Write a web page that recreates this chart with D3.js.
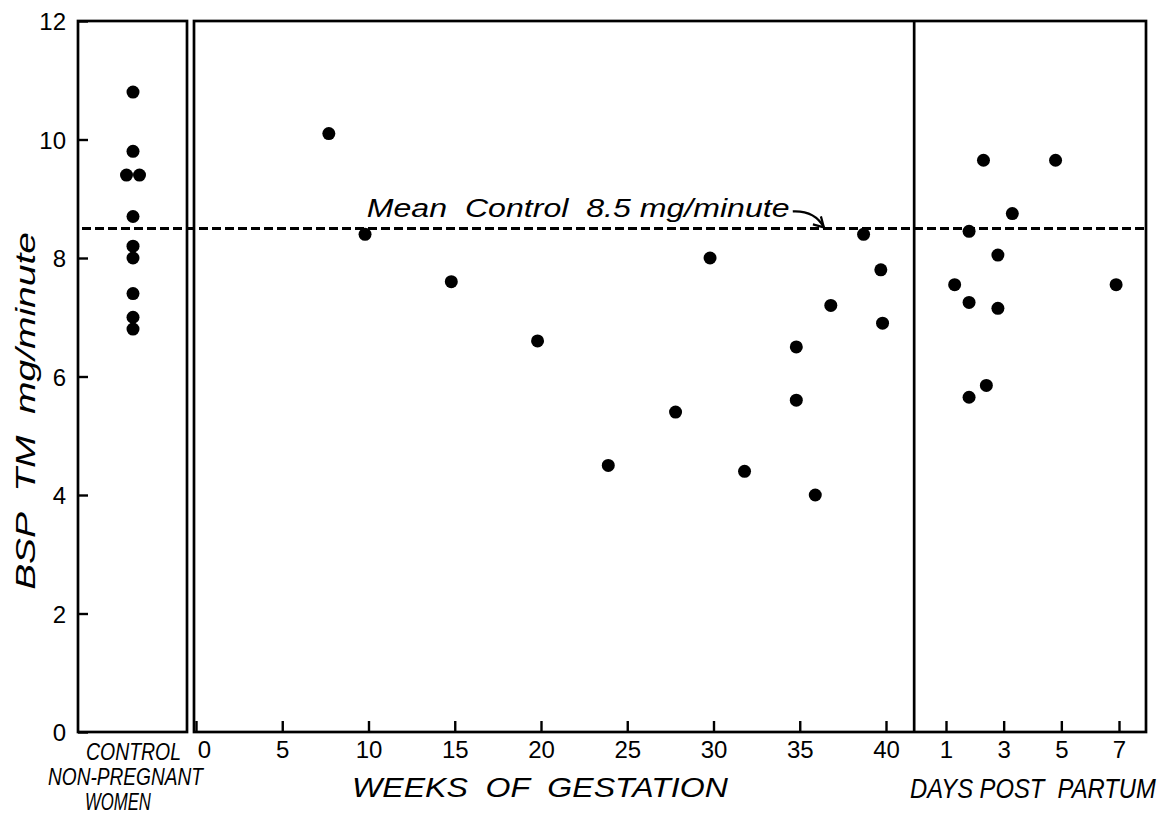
<!DOCTYPE html>
<html>
<head>
<meta charset="utf-8">
<script src="https://cdn.jsdelivr.net/npm/d3@7"></script>
<style>
  html, body { margin: 0; padding: 0; background: #fff; }
  svg { display: block; }
  text { font-family: "Liberation Sans", Arial, sans-serif; fill: #000; white-space: pre; }
</style>
</head>
<body>
<svg id="chart" width="1168" height="815"></svg>
<script>
// ---- data ----
const yTicks = [0, 2, 4, 6, 8, 10, 12];
const weekTicks = [0, 5, 10, 15, 20, 25, 30, 35, 40];
const dayTicks = [1, 3, 5, 7];

const controlValues = [10.8, 9.8, 9.4, 9.4, 8.7, 8.2, 8.0, 7.4, 7.0, 6.8];

const gestationWeeks  = [7.7, 9.8, 14.8, 19.8, 23.9, 27.8, 29.8, 31.8, 34.8, 34.8, 35.9, 36.8, 38.7, 39.7, 39.8];
const gestationValues = [10.1, 8.4, 7.6, 6.6, 4.5, 5.4, 8.0, 4.4, 6.5, 5.6, 4.0, 7.2, 8.4, 7.8, 6.9];

const postpartumDays   = [2.3, 4.8, 3.3, 1.8, 2.8, 1.3, 6.9, 1.8, 2.8, 2.4, 1.8];
const postpartumValues = [9.65, 9.65, 8.75, 8.45, 8.05, 7.55, 7.55, 7.25, 7.15, 5.85, 5.65];

const meanControl = 8.5;

// ---- layout ----
const svg = d3.select("#chart");
const y = d3.scaleLinear().domain([0, 12]).range([732, 21]);
const xWeeks = d3.scaleLinear().domain([0, 40]).range([196, 886]);
const xDays = d3.scaleLinear().domain([1, 7]).range([946, 1119]);
const ctrlLeft = 78, ctrlRight = 187, ctrlCenter = 133;
const mainLeft = 194, mainRight = 1146;
const sepX = xDays(0) - 3;

// text fitted to a width by horizontal scaling (real geometry, no textLength)
function fitText(str, x, yb, size, width, rotate) {
  const t = svg.append("text").style("font-size", size + "px").style("font-style", "italic").text(str);
  const natural = t.node().getComputedTextLength();
  const sx = width / natural;
  if (rotate) {
    t.attr("text-anchor", "middle")
     .attr("transform", `translate(${x},${yb}) rotate(-90) scale(${sx},1)`);
  } else {
    t.attr("transform", `translate(${x},${yb}) scale(${sx},1)`);
  }
  return t;
}

const frame = svg.append("g").attr("fill", "none").attr("stroke", "#000").attr("stroke-width", 2.7);
frame.append("rect").attr("x", ctrlLeft).attr("y", y(12)).attr("width", ctrlRight - ctrlLeft).attr("height", y(0) - y(12));
frame.append("rect").attr("x", mainLeft).attr("y", y(12)).attr("width", mainRight - mainLeft).attr("height", y(0) - y(12));
frame.append("line").attr("x1", sepX).attr("x2", sepX).attr("y1", y(12)).attr("y2", y(0));

// y axis
const yAxis = svg.append("g").attr("transform", `translate(${ctrlLeft},0)`)
  .call(d3.axisLeft(y).tickValues(yTicks).tickSize(-10).tickPadding(12).tickFormat(d3.format("d")));
yAxis.select(".domain").remove();
yAxis.selectAll(".tick line").attr("stroke", "#000").attr("stroke-width", 2.4);
yAxis.selectAll(".tick text").style("font-size", "24px").attr("dy", "0.36em");

// weeks axis
const wAxis = svg.append("g").attr("transform", `translate(0,${y(0)})`)
  .call(d3.axisBottom(xWeeks).tickValues(weekTicks).tickSize(-11).tickPadding(24).tickFormat(d3.format("d")));
wAxis.select(".domain").remove();
wAxis.selectAll(".tick line").attr("stroke", "#000").attr("stroke-width", 2.4);
wAxis.selectAll(".tick text").style("font-size", "24px").attr("dy", "0.1em")
  .attr("dx", d => d === 0 ? 8 : 0);

// days axis
const dAxis = svg.append("g").attr("transform", `translate(0,${y(0)})`)
  .call(d3.axisBottom(xDays).tickValues(dayTicks).tickSize(-11).tickPadding(24).tickFormat(d3.format("d")));
dAxis.select(".domain").remove();
dAxis.selectAll(".tick line").attr("stroke", "#000").attr("stroke-width", 2.4);
dAxis.selectAll(".tick text").style("font-size", "24px").attr("dy", "0.1em");

// mean control dashed line
svg.append("line")
  .attr("x1", ctrlLeft + 4).attr("x2", mainRight)
  .attr("y1", y(meanControl)).attr("y2", y(meanControl))
  .attr("stroke", "#000").attr("stroke-width", 3).attr("stroke-dasharray", "9,4");

// points
const dots = svg.append("g").attr("fill", "#000");
const seen = {};
controlValues.forEach(v => { seen[v] = (seen[v] || 0) + 1; });
const used = {};
controlValues.forEach(v => {
  const n = seen[v];
  const i = used[v] = (used[v] === undefined ? 0 : used[v] + 1);
  const off = n > 1 ? (i - (n - 1) / 2) * 13 : 0;
  dots.append("circle").attr("cx", ctrlCenter + off).attr("cy", y(v)).attr("r", 6.5);
});
gestationWeeks.forEach((w, i) => {
  dots.append("circle").attr("cx", xWeeks(w)).attr("cy", y(gestationValues[i])).attr("r", 6.5);
});
postpartumDays.forEach((d, i) => {
  dots.append("circle").attr("cx", xDays(d)).attr("cy", y(postpartumValues[i])).attr("r", 6.5);
});

// annotation
fitText("Mean  Control  8.5 mg/minute", xWeeks(9.9), y(meanControl) - 11, 26, 423);

const ax0 = xWeeks(9.9) + 426, ay0 = y(meanControl) - 17;
const ax1 = xWeeks(36.4), ay1 = y(meanControl) - 1;
svg.append("path")
  .attr("d", `M${ax0},${ay0} Q${ax0 + 22},${ay0 - 1} ${ax1},${ay1}`)
  .attr("fill", "none").attr("stroke", "#000").attr("stroke-width", 2.2);
svg.append("path")
  .attr("d", `M${ax1 - 11},${ay1 - 3} L${ax1},${ay1} L${ax1 - 3},${ay1 - 11}`)
  .attr("fill", "none").attr("stroke", "#000").attr("stroke-width", 2.2);

// axis titles
fitText("BSP  TM  mg/minute", 35, 411, 28, 358, true);
fitText("WEEKS  OF  GESTATION", 352, 797, 28, 376);
fitText("DAYS POST  PARTUM", 910, 798, 27, 246);

const ctrlLabels = [["CONTROL", 86, 760, 95], ["NON-PREGNANT", 48, 785, 155], ["WOMEN", 85, 810, 66]];
ctrlLabels.forEach(([t, x0, yb, w]) => fitText(t, x0, yb, 24, w));
</script>
</body>
</html>
